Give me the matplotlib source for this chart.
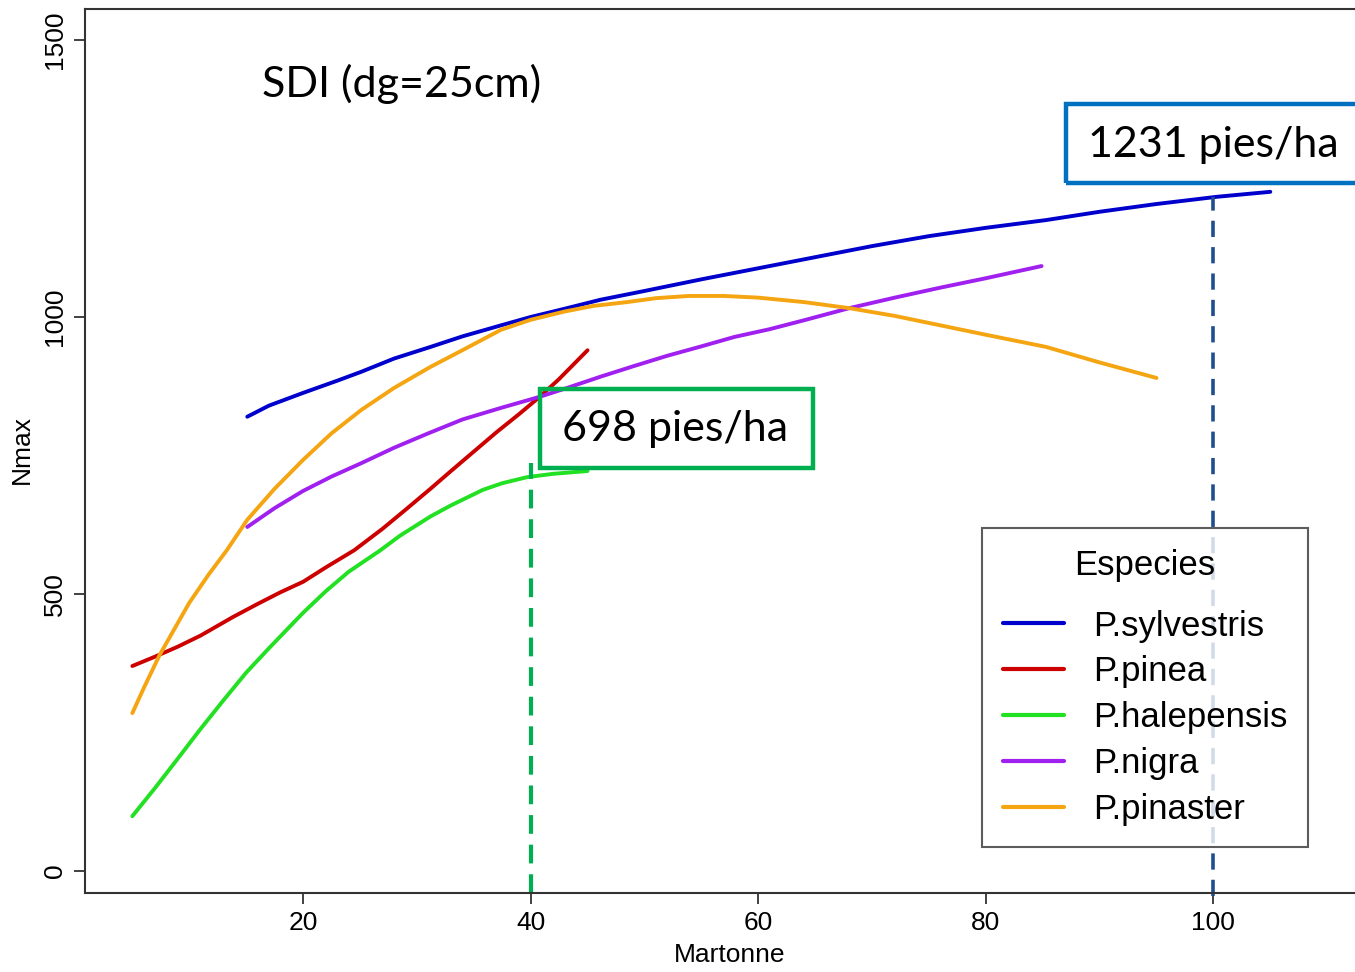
import matplotlib
matplotlib.use("Agg")
import matplotlib.pyplot as plt
from matplotlib.patches import Rectangle

# curves (Martonne index vs Nmax)
sylv_x = [15.1, 17, 20, 23, 25.1, 28, 31.2, 34, 37.4, 40, 43, 46.1, 50, 55, 60, 65, 70, 75, 80, 85.3, 90, 95, 100.3, 105]
sylv_y = [820, 840, 863, 885, 901, 925, 946, 965, 985, 1000, 1015, 1031, 1047, 1068, 1088, 1108, 1128, 1146, 1161, 1175, 1190, 1204, 1217, 1226]

pinea_x = [5, 7, 9, 11, 13.8, 16, 18, 20, 22, 24.5, 27, 29, 31.2, 33, 35, 37, 39, 40.8, 42.5, 45]
pinea_y = [370, 387, 405, 425, 458, 482, 503, 522, 548, 579, 618, 652, 690, 722, 757, 792, 825, 856, 888, 940]

hale_x = [5, 7, 9, 10.9, 13, 15, 17, 20, 22, 24, 26.8, 28.5, 31.2, 33, 35.8, 37.5, 39.7, 42, 45]
hale_y = [99, 150, 203, 254, 308, 358, 402, 466, 505, 540, 579, 605, 640, 660, 688, 700, 711, 717, 722]

nigra_x = [15.1, 17.5, 20, 22.5, 25.1, 28, 31, 34, 37.4, 40.8, 43.5, 46.1, 49, 52, 55, 57.9, 61, 64, 68, 72, 76, 80, 84.9]
nigra_y = [621, 655, 686, 712, 736, 764, 790, 815, 836, 856, 874, 892, 911, 930, 947, 964, 978, 994, 1016, 1035, 1053, 1070, 1092]

pinas_x = [5, 6, 7.4, 8.7, 10, 11.7, 13.3, 15.1, 17.5, 20, 22.5, 25.1, 28, 31.2, 34, 37.4, 40, 43, 45.5, 48.5,
           51, 53.9, 57, 60, 64, 68, 72, 76, 80, 85.3, 90, 95]
pinas_y = [285, 330, 390, 437, 484, 535, 579, 634, 690, 742, 790, 832, 872, 910, 940, 977, 995, 1010, 1020, 1027,
           1034, 1038, 1038, 1035, 1027, 1016, 1002, 985, 968, 946, 918, 890]

species = ["P.sylvestris", "P.pinea", "P.halepensis", "P.nigra", "P.pinaster"]
colors = ["#0000cd", "#cd0000", "#22e022", "#a020f0", "#f5a511"]
xs = [sylv_x, pinea_x, hale_x, nigra_x, pinas_x]
ys = [sylv_y, pinea_y, hale_y, nigra_y, pinas_y]

ref_x = [40, 100]
ref_y = [736, 1217]
ref_labels = ["698 pies/ha", "1231 pies/ha"]

W, H = 1355, 972
fig = plt.figure(figsize=(W / 100, H / 100), dpi=100)
ax = fig.add_axes([85 / W, (H - 893) / H, (1375 - 85) / W, (893 - 9) / H])
ax.set_xlim(0.84, 114.2)
ax.set_ylim(-39.7, 1556)

for x, y, c, s in zip(xs, ys, colors, species):
    ax.plot(x, y, color=c, lw=2.8, label=s, solid_capstyle="round", solid_joinstyle="round")

ax.plot([ref_x[0], ref_x[0]], [-39.7, ref_y[0]], color="#00b050", lw=3, dashes=(4.5, 2.6), clip_on=False)
ax.plot([ref_x[1], ref_x[1]], [-45, ref_y[1]], color="#1f4e8f", lw=2.6, dashes=(4.5, 2.8), clip_on=False)

for sp in ["top", "left", "bottom"]:
    ax.spines[sp].set_color("#333333")
    ax.spines[sp].set_linewidth(1.5)
ax.spines["right"].set_visible(False)

ax.set_xticks([20, 40, 60, 80, 100])
ax.set_yticks([0, 500, 1000, 1500])
ax.tick_params(length=8, width=1.3, color="#333333", labelsize=19, pad=5)
for t in ax.get_yticklabels():
    t.set_rotation(90)
    t.set_va("center")
for t in ax.get_xticklabels() + ax.get_yticklabels():
    t.set_family("Liberation Sans")
fig.text(730 / W, (H - 955) / H, "Martonne", fontsize=19, family="Liberation Sans", ha="center", va="center")
fig.text(22 / W, (H - 450) / H, "Nmax", fontsize=19, family="Liberation Sans", ha="center", va="center",
         rotation=90)

leg = ax.legend(title="Especies", loc="upper left", bbox_to_anchor=(982 / W, (H - 528) / H),
                bbox_transform=fig.transFigure, borderaxespad=0, fancybox=False,
                edgecolor="#333333", title_fontsize=25,
                handlelength=1.75, handletextpad=0.85, labelspacing=0.37,
                borderpad=0.6, prop={"family": "Liberation Sans", "size": 25})
leg.get_frame().set_linewidth(1.5)
leg.get_title().set_family("Liberation Sans")
leg._legend_box.sep = 20
for l in leg.get_lines():
    l.set_linewidth(3)

fig.text(262 / W, (H - 84) / H, "SDI (dg=25cm)", fontsize=31, family="Lato", va="center", ha="left")

# annotation boxes
fig.patches.append(Rectangle((540 / W, (H - 468) / H), (813 - 540) / W, (468 - 389) / H,
                             transform=fig.transFigure, fill=False, ec="#00b050", lw=3.2))
fig.text(675 / W, (H - 429) / H, ref_labels[0], fontsize=31, family="Lato", va="center", ha="center")
fig.patches.append(Rectangle((1066 / W, (H - 183) / H), (1400 - 1066) / W, (183 - 104) / H,
                             transform=fig.transFigure, fill=False, ec="#0070c0", lw=3.2, clip_on=False))
fig.text(1213 / W, (H - 145) / H, ref_labels[1], fontsize=31, family="Lato", va="center", ha="center")

fig.savefig("out.png", dpi=100)
